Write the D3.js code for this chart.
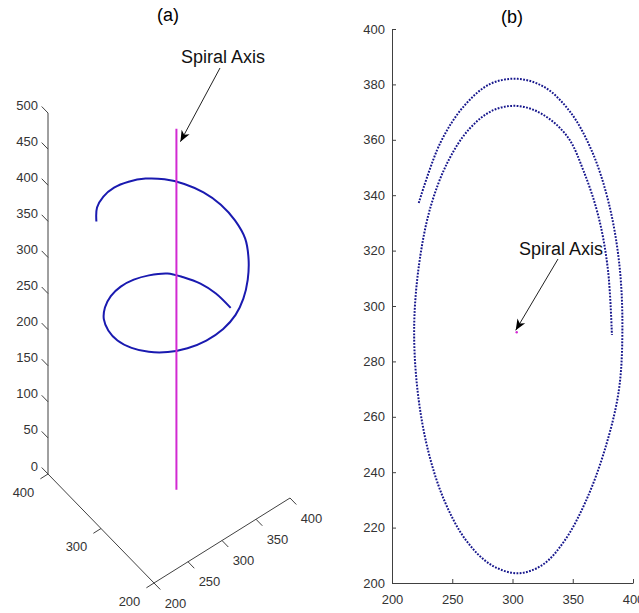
<!DOCTYPE html>
<html>
<head>
<meta charset="utf-8">
<script src="https://cdn.jsdelivr.net/npm/d3@7"></script>
<style>
  body { margin: 0; background: #fff; }
  text { font-family: "Liberation Sans", Arial, sans-serif; }
</style>
</head>
<body>
<svg id="fig" width="639" height="613"></svg>
<script>
// spiral points (X, Y from panel b, Z from panel a)
const helixX = [222.2, 240.0, 259.8, 281.7, 304.5, 327.0, 348.0, 366.0, 379.8, 388.5, 391.2, 388.2, 376.5, 360.8, 343.4, 325.1, 304.5, 282.1, 261.3, 243.5, 229.8, 221.2, 218.4, 222.5, 231.9, 246.5, 264.3, 284.1, 304.5, 324.5, 345.5, 359.1, 371.4, 379.2, 382.5];
const helixY = [337.2, 358.8, 372.2, 380.2, 382.0, 378.9, 370.0, 355.8, 337.3, 315.7, 292.5, 269.4, 248.0, 229.5, 215.4, 206.6, 203.5, 206.6, 215.5, 229.7, 248.1, 269.5, 292.5, 315.1, 335.6, 352.2, 364.0, 370.7, 372.2, 369.3, 361.2, 348.6, 332.2, 313.1, 289.5];
const helixZ = [384, 376.7, 370.1, 363.5, 356.9, 350.3, 343.7, 337.4, 331.5, 325.7, 319.8, 313.8, 308.1, 302.9, 297.8, 292.7, 287.6, 282.5, 277.4, 271.9, 266.4, 260.8, 255.3, 249.7, 244.2, 239.4, 235.8, 232.2, 228.6, 225.0, 221.4, 217.6, 213.9, 210.1, 206];

// spiral axis
const axisXY = [303.5, 290.5];
const axisZ = [0, 500];

// ticks
const aXTicks = [200, 250, 300, 350, 400];
const aYTicks = [200, 300, 400];
const aZTicks = [0, 50, 100, 150, 200, 250, 300, 350, 400, 450, 500];
const bXTicks = [200, 250, 300, 350, 400];
const bYTicks = [200, 220, 240, 260, 280, 300, 320, 340, 360, 380, 400];

const titles = ["(a)", "(b)"];
const note = "Spiral Axis";

const svg = d3.select("#fig");
const axisCol = "#404040";
const textCol = "#333";
const blue = "#1a1ab0";
const magenta = "#d22ad2";

svg.append("defs").append("marker")
  .attr("id", "head")
  .attr("markerUnits", "userSpaceOnUse")
  .attr("viewBox", "-12 -6 14 12")
  .attr("refX", 0).attr("refY", 0)
  .attr("markerWidth", 14).attr("markerHeight", 12)
  .attr("orient", "auto")
  .append("path")
  .attr("d", "M0,0 L-11,-4.5 L-8,0 L-11,4.5 Z")
  .attr("fill", "#000");

// ---------- panel (a): 3-D view ----------
const origin = [154, 583];
const dirX = [136, -85], dirY = [-106, -109], dirZ = [0, -361];
const sx3 = d3.scaleLinear().domain([200, 400]).range([0, 1]);
const sy3 = d3.scaleLinear().domain([200, 400]).range([0, 1]);
const sz3 = d3.scaleLinear().domain([0, 500]).range([0, 1]);

function proj(X, Y, Z) {
  const a = sx3(X), b = sy3(Y), c = sz3(Z);
  return [origin[0] + a * dirX[0] + b * dirY[0] + c * dirZ[0],
          origin[1] + a * dirX[1] + b * dirY[1] + c * dirZ[1]];
}

const ga = svg.append("g");

function seg(g, p, q, col, w) {
  g.append("line")
    .attr("x1", p[0]).attr("y1", p[1]).attr("x2", q[0]).attr("y2", q[1])
    .attr("stroke", col).attr("stroke-width", w || 1);
}

// axis lines
seg(ga, proj(200, 400, 0), proj(200, 400, 500), axisCol);
seg(ga, proj(200, 400, 0), proj(200, 200, 0), axisCol);
seg(ga, proj(200, 200, 0), proj(400, 200, 0), axisCol);

aZTicks.forEach(z => {
  const p = proj(200, 400, z);
  seg(ga, p, [p[0] - 6.3, p[1] - 6.5], axisCol);
  ga.append("text").attr("x", p[0] - 10).attr("y", p[1] - 8)
    .attr("dy", "0.35em").attr("text-anchor", "end")
    .attr("font-size", 13).attr("fill", textCol).text(z);
});
aYTicks.forEach(y => {
  const p = proj(200, y, 0);
  seg(ga, p, [p[0] - 7.6, p[1] + 4.8], axisCol);
  ga.append("text").attr("x", p[0] - 24.5).attr("y", p[1] + 18)
    .attr("dy", "0.35em").attr("text-anchor", "middle")
    .attr("font-size", 13).attr("fill", textCol).text(y);
});
aXTicks.forEach(x => {
  const p = proj(x, 200, 0);
  seg(ga, p, [p[0] + 6.3, p[1] + 6.5], axisCol);
  ga.append("text").attr("x", p[0] + 21.5).attr("y", p[1] + 20)
    .attr("dy", "0.35em").attr("text-anchor", "middle")
    .attr("font-size", 13).attr("fill", textCol).text(x);
});

const helix3 = helixX.map((x, i) => proj(x, helixY[i], helixZ[i]));
ga.append("path")
  .attr("d", d3.line().curve(d3.curveCatmullRom)(helix3))
  .attr("fill", "none").attr("stroke", blue).attr("stroke-width", 2);

seg(ga, proj(axisXY[0], axisXY[1], axisZ[0]), proj(axisXY[0], axisXY[1], axisZ[1]), magenta, 2);

ga.append("text").attr("x", 168).attr("y", 15).attr("dy", "0.35em")
  .attr("text-anchor", "middle").attr("font-size", 18).attr("fill", "#000").text(titles[0]);
ga.append("text").attr("x", 223).attr("y", 57).attr("dy", "0.35em")
  .attr("text-anchor", "middle").attr("font-size", 18).attr("fill", "#111").text(note);
const tipA = proj(axisXY[0], axisXY[1], 482);
ga.append("line")
  .attr("x1", 220).attr("y1", 68).attr("x2", tipA[0] + 4).attr("y2", tipA[1])
  .attr("stroke", "#222").attr("stroke-width", 1).attr("marker-end", "url(#head)");

// ---------- panel (b): top view ----------
const xb = d3.scaleLinear().domain([200, 400]).range([392, 633]);
const yb = d3.scaleLinear().domain([200, 400]).range([583, 29]);
const gb = svg.append("g");

gb.append("g").attr("transform", "translate(0,583)")
  .call(d3.axisBottom(xb).tickValues(bXTicks).tickSizeInner(-4).tickSizeOuter(0).tickPadding(12))
  .call(g => g.select(".domain").attr("stroke", axisCol))
  .call(g => g.selectAll(".tick line").attr("stroke", axisCol))
  .call(g => g.selectAll("text").attr("font-size", 13).attr("fill", textCol)
    .attr("font-family", "Liberation Sans, Arial, sans-serif"));

gb.append("g").attr("transform", "translate(392,0)")
  .call(d3.axisLeft(yb).tickValues(bYTicks).tickSizeInner(-4).tickSizeOuter(0).tickPadding(7))
  .call(g => g.select(".domain").attr("stroke", axisCol))
  .call(g => g.selectAll(".tick line").attr("stroke", axisCol))
  .call(g => g.selectAll("text").attr("font-size", 13).attr("fill", textCol)
    .attr("font-family", "Liberation Sans, Arial, sans-serif"));

const helix2 = helixX.map((x, i) => [xb(x), yb(helixY[i])]);
gb.append("path")
  .attr("d", d3.line().curve(d3.curveCatmullRom)(helix2))
  .attr("fill", "none").attr("stroke", "#16168c").attr("stroke-width", 2)
  .attr("stroke-dasharray", "1.8 1.4");

gb.append("circle").attr("cx", xb(axisXY[0])).attr("cy", yb(axisXY[1]))
  .attr("r", 1.2).attr("fill", magenta);

gb.append("text").attr("x", 512).attr("y", 17).attr("dy", "0.35em")
  .attr("text-anchor", "middle").attr("font-size", 18).attr("fill", "#000").text(titles[1]);
gb.append("text").attr("x", 561).attr("y", 249).attr("dy", "0.35em")
  .attr("text-anchor", "middle").attr("font-size", 18).attr("fill", "#111").text(note);
gb.append("line")
  .attr("x1", 558).attr("y1", 259).attr("x2", xb(axisXY[0]) - 1).attr("y2", yb(axisXY[1]) - 2)
  .attr("stroke", "#222").attr("stroke-width", 1).attr("marker-end", "url(#head)");
</script>
</body>
</html>
